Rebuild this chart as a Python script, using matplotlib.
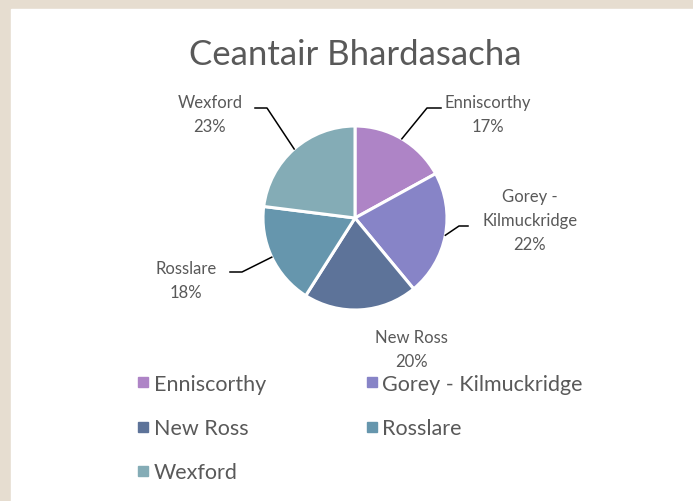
import matplotlib
matplotlib.use("Agg")
import matplotlib.pyplot as plt
from matplotlib.lines import Line2D
from matplotlib.patches import Rectangle
import numpy as np

# data
title = "Ceantair Bhardasacha"
areas = ["Enniscorthy", "Gorey - Kilmuckridge", "New Ross", "Rosslare", "Wexford"]
shares = [17, 22, 20, 18, 23]
colours = ["#ae84c6", "#8784c7", "#5d7399", "#6696ad", "#84acb6"]

# label layout, pixels from pie centre (x right, y up)
label_pos = [(133, 104), (175, -2), (56, -131), (-169, -62), (-145, 104)]
# leader elbow and tail, relative to label position (None = no leader)
leader = [((-61, 6), (-47, 6)), ((-71, -6), (-62, -6)), None,
          ((56, 8), (44, 8)), ((57, 6), (45, 6))]

W, H = 693, 502
cx, cy, R = 355, H - 219, 92
txt = "#595959"
plt.rcParams["font.family"] = ["Lato", "DejaVu Sans"]

fig = plt.figure(figsize=(W / 100, H / 100), dpi=100, facecolor="#e6ddd0")
ax = fig.add_axes([0, 0, 1, 1])
ax.patch.set_alpha(0)
ax.add_patch(Rectangle((11, 0), W - 11, H - 10, color="white", zorder=0))

wedges, _ = ax.pie(shares, colors=colours, startangle=90, counterclock=False,
                   center=(cx, cy), radius=R,
                   wedgeprops=dict(edgecolor="white", linewidth=2.2))
ax.set_xlim(0, W)
ax.set_ylim(0, H)
ax.axis("off")

total = sum(shares)
for i, w in enumerate(wedges):
    name = areas[i].replace(" - ", " -\n")
    lx, ly = cx + label_pos[i][0], cy + label_pos[i][1]
    ax.text(lx, ly, "%s\n%d%%" % (name, round(shares[i] * 100 / total)),
            ha="center", va="center", fontsize=12, color=txt, linespacing=1.65)
    if leader[i] is None:
        continue
    mid = np.deg2rad((w.theta1 + w.theta2) / 2)
    ex, ey = cx + R * np.cos(mid), cy + R * np.sin(mid)
    (ox, oy), (tx, ty) = leader[i]
    ax.plot([ex, lx + ox, lx + tx], [ey, ly + oy, ly + ty], color="black", lw=1.1)

ax.text(cx, H - 55, title, ha="center", va="center", fontsize=25, color=txt)

order = [0, 2, 4, 1, 3]
handles = [Line2D([], [], ls="", marker="s", markersize=6.5, color=colours[i]) for i in order]
ax.legend(handles, [areas[i] for i in order], ncol=2, frameon=False,
          loc="upper left", bbox_to_anchor=(126 / W, 1 - 364 / H),
          fontsize=15.5, labelcolor=txt, handlelength=0.6, handletextpad=0.2,
          labelspacing=1.13, columnspacing=4.6, borderpad=0)

fig.savefig("out.png", dpi=100, facecolor=fig.get_facecolor())
